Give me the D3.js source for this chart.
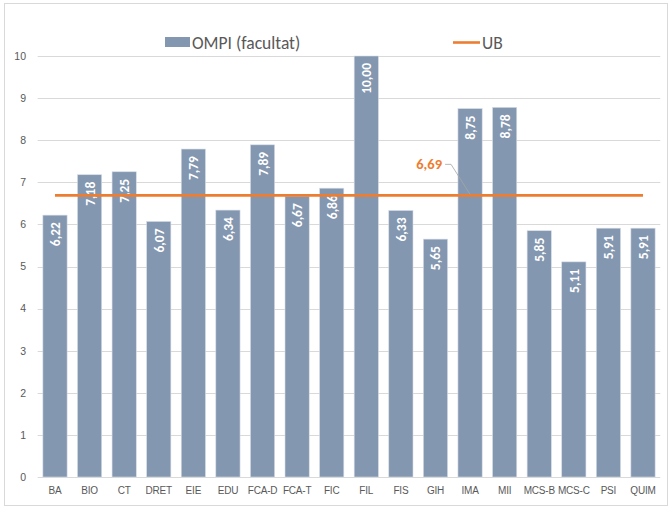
<!DOCTYPE html>
<html>
<head>
<meta charset="utf-8">
<script src="https://cdn.jsdelivr.net/npm/d3@7"></script>
<style>
  body { margin: 0; background: #fff; }
  svg { font-family: Carlito, Lato, 'Liberation Sans', sans-serif; }
</style>
</head>
<body>
<div id="chart"></div>
<script>
const categories = ['BA', 'BIO', 'CT', 'DRET', 'EIE', 'EDU', 'FCA-D', 'FCA-T', 'FIC', 'FIL',
  'FIS', 'GIH', 'IMA', 'MII', 'MCS-B', 'MCS-C', 'PSI', 'QUIM'];
const ompiValues = [6.22, 7.18, 7.25, 6.07, 7.79, 6.34, 7.89, 6.67, 6.86, 10.00,
  6.33, 5.65, 8.75, 8.78, 5.85, 5.11, 5.91, 5.91];
const ubValue = 6.69;
const ubLabelCategory = 'IMA';
const yTicks = [0, 1, 2, 3, 4, 5, 6, 7, 8, 9, 10];

const width = 670;
const height = 507;
const margin = { top: 56, right: 10, bottom: 30, left: 37.7 };

const fmt = (v) => v.toFixed(2).replace('.', ',');

const svg = d3.select('#chart')
  .append('svg')
  .attr('width', width)
  .attr('height', height);

// chart border
svg.append('rect')
  .attr('x', 4.5).attr('y', 3.5)
  .attr('width', 663).attr('height', 502)
  .attr('fill', '#fff')
  .attr('stroke', '#D9D9D9');

const x = d3.scaleBand()
  .domain(categories)
  .range([margin.left, 660.3])
  .paddingInner(0.3)
  .paddingOuter(0.15);

const y = d3.scaleLinear()
  .domain([0, 10])
  .range([477, 56]);

// gridlines
svg.append('g')
  .selectAll('line')
  .data(yTicks)
  .enter()
  .append('line')
  .attr('x1', margin.left)
  .attr('x2', 660.3)
  .attr('y1', (d) => Math.round(y(d)) + 0.5)
  .attr('y2', (d) => Math.round(y(d)) + 0.5)
  .attr('stroke', '#D9D9D9')
  .attr('stroke-width', 1);

// y axis labels
const yAxis = svg.append('g')
  .attr('transform', 'translate(29,0)')
  .call(d3.axisLeft(y).tickValues(yTicks).tickSize(0).tickPadding(3));
yAxis.select('.domain').remove();
yAxis.selectAll('text')
  .attr('fill', '#595959')
  .style('font-size', '10.5px')
  .style('font-family', 'inherit');

// x axis labels
const xAxis = svg.append('g')
  .attr('transform', 'translate(0,477)')
  .call(d3.axisBottom(x).tickSize(0).tickPadding(10));
xAxis.select('.domain').remove();
xAxis.selectAll('text')
  .attr('fill', '#595959')
  .style('font-size', '10px')
  .style('letter-spacing', '-0.2px')
  .style('font-family', 'inherit');

// bars
const bars = svg.append('g')
  .selectAll('g')
  .data(categories.map((c, i) => ({ cat: c, value: ompiValues[i] })))
  .enter();

bars.append('rect')
  .attr('x', (d) => x(d.cat))
  .attr('y', (d) => y(d.value))
  .attr('width', x.bandwidth())
  .attr('height', (d) => y(0) - y(d.value))
  .attr('fill', '#8497B0')
  .attr('stroke', '#D6DCE5')
  .attr('stroke-width', 0.6);

bars.append('text')
  .attr('transform', (d) => `translate(${x(d.cat) + x.bandwidth() / 2 + 5},${y(d.value) + 7}) rotate(-90)`)
  .attr('text-anchor', 'end')
  .attr('fill', '#fff')
  .style('font-size', '13.5px')
  .style('font-weight', 'bold')
  .text((d) => fmt(d.value));

// UB line
const lineGen = d3.line()
  .x((d) => x(d) + x.bandwidth() / 2)
  .y(() => y(ubValue));

svg.append('path')
  .datum(categories)
  .attr('d', lineGen)
  .attr('fill', 'none')
  .attr('stroke', '#ED7D31')
  .attr('stroke-width', 2.6);

// UB data label with leader line
const px = x(ubLabelCategory) + x.bandwidth() / 2;
const py = y(ubValue);
svg.append('path')
  .attr('d', `M${px - 25},${py - 31} L${px - 19},${py - 31} L${px},${py - 1}`)
  .attr('fill', 'none')
  .attr('stroke', '#A6A6A6')
  .attr('stroke-width', 0.8);

svg.append('text')
  .attr('x', px - 28)
  .attr('y', py - 26)
  .attr('text-anchor', 'end')
  .attr('fill', '#ED7D31')
  .style('font-size', '14.5px')
  .style('font-weight', 'bold')
  .text(fmt(ubValue));

// legend
const legend = svg.append('g');
legend.append('rect')
  .attr('x', 165).attr('y', 37)
  .attr('width', 25).attr('height', 10)
  .attr('fill', '#8497B0');
legend.append('text')
  .attr('x', 192).attr('y', 48.5)
  .attr('fill', '#595959')
  .style('font-size', '17.5px')
  .text('OMPI (facultat)');
legend.append('line')
  .attr('x1', 453).attr('x2', 480)
  .attr('y1', 42.5).attr('y2', 42.5)
  .attr('stroke', '#ED7D31')
  .attr('stroke-width', 2.6);
legend.append('text')
  .attr('x', 482).attr('y', 48.5)
  .attr('fill', '#595959')
  .style('font-size', '17.5px')
  .text('UB');
</script>
</body>
</html>
